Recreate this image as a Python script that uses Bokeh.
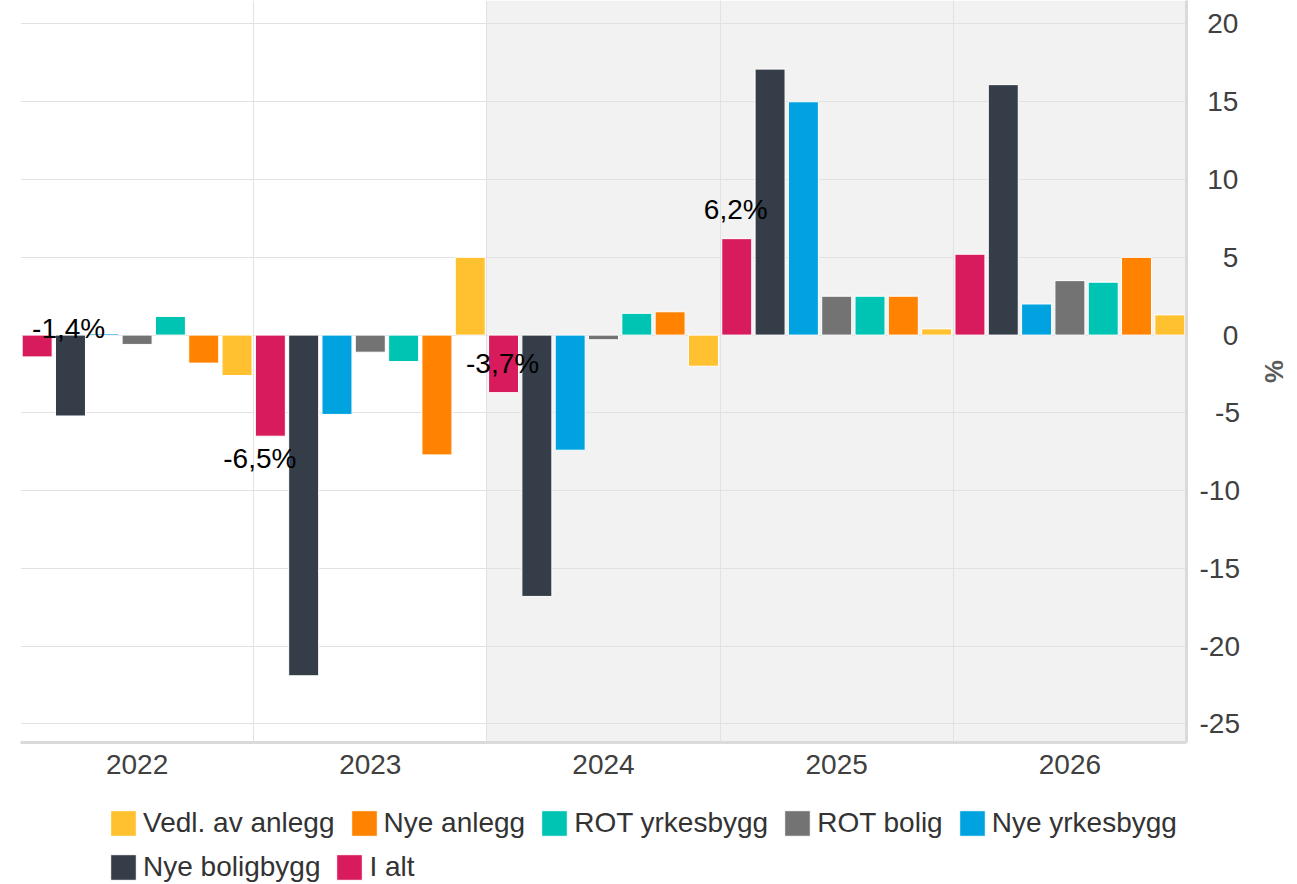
from bokeh.plotting import figure
from bokeh.layouts import column
from bokeh.models import (FactorRange, Range1d, ColumnDataSource, SingleIntervalTicker,
                          FixedTicker, BoxAnnotation, Legend, LegendItem, CustomJSTickFormatter)
from bokeh.transform import dodge
from bokeh.core.properties import value
from bokeh.embed import file_html
from bokeh.resources import INLINE

# ---------------- data ----------------
years = ["2022", "2023", "2024", "2025", "2026"]
forecast_from = "2024"

series_names = ["I alt", "Nye boligbygg", "Nye yrkesbygg", "ROT bolig",
                "ROT yrkesbygg", "Nye anlegg", "Vedl. av anlegg"]

i_alt = [-1.4, -6.5, -3.7, 6.2, 5.2]
nye_boligbygg = [-5.2, -21.9, -16.8, 17.1, 16.1]
nye_yrkesbygg = [0.1, -5.1, -7.4, 15.0, 2.0]
rot_bolig = [-0.6, -1.1, -0.3, 2.5, 3.5]
rot_yrkesbygg = [1.2, -1.7, 1.4, 2.5, 3.4]
nye_anlegg = [-1.8, -7.7, 1.5, 2.5, 5.0]
vedl_anlegg = [-2.6, 5.0, -2.0, 0.4, 1.3]

labeled_years = ["2022", "2023", "2024", "2025"]

legend_row1 = ["Vedl. av anlegg", "Nye anlegg", "ROT yrkesbygg", "ROT bolig", "Nye yrkesbygg"]
legend_row2 = ["Nye boligbygg", "I alt"]

# ---------------- styles ----------------
colors = {
    "I alt": "#d81b5c",
    "Nye boligbygg": "#343d48",
    "Nye yrkesbygg": "#00a3e0",
    "ROT bolig": "#737373",
    "ROT yrkesbygg": "#00c4b3",
    "Nye anlegg": "#ff8300",
    "Vedl. av anlegg": "#ffc130",
}
label_offsets = [(31.5, -28), (-10.5, 22), (-1, -29), (-1, -29)]
FONT = "Liberation Sans"
W = 1297

values_by_series = {
    "I alt": i_alt,
    "Nye boligbygg": nye_boligbygg,
    "Nye yrkesbygg": nye_yrkesbygg,
    "ROT bolig": rot_bolig,
    "ROT yrkesbygg": rot_yrkesbygg,
    "Nye anlegg": nye_anlegg,
    "Vedl. av anlegg": vedl_anlegg,
}

x_range = FactorRange(*years, range_padding=0)
p = figure(width=W, height=790,
           x_range=x_range,
           y_range=Range1d(-26.19, 21.51),
           y_axis_location="right",
           output_backend="svg", toolbar_location=None,
           min_border_left=20, min_border_top=0, min_border_right=111, min_border_bottom=48)
p.outline_line_color = None
p.background_fill_color = "white"

# forecast shading
p.add_layout(BoxAnnotation(left=years.index(forecast_from), fill_color="#f2f2f2", fill_alpha=1,
                           line_alpha=0, level="image"))

n = len(series_names)
slot = 1.0 / n
sources = {}
for i, name in enumerate(series_names):
    sources[name] = ColumnDataSource(dict(year=years, v=values_by_series[name]))
    p.vbar(x=dodge("year", (i - (n - 1) / 2) * slot, range=x_range),
           top="v", bottom=0, width=slot * 0.9, source=sources[name],
           fill_color=colors[name], line_color="white", line_width=1)

# data labels for "I alt"
lbl_vals = [i_alt[years.index(y)] for y in labeled_years]
lbl_src = ColumnDataSource(dict(
    year=labeled_years, v=lbl_vals,
    text=[("%.1f%%" % v).replace(".", ",") for v in lbl_vals],
    dx=[o[0] for o in label_offsets], dy=[o[1] for o in label_offsets]))
p.text(x=dodge("year", (0 - (n - 1) / 2) * slot, range=x_range), y="v", text="text",
       x_offset="dx", y_offset="dy", source=lbl_src, text_align="center",
       text_baseline="middle", text_font=value(FONT), text_font_size="28px",
       text_color="black")

# axes
yax = p.yaxis[0]
yax.ticker = SingleIntervalTicker(interval=5, num_minor_ticks=0)
yax.formatter = CustomJSTickFormatter(code="""
    const a = Math.abs(tick);
    let pad = '';
    if (tick >= 0) pad += '\\u2008';
    if (String(a).length < 2) pad += '\\u2007';
    return pad + (tick < 0 ? '-' : '') + String(a);
""")
yax.major_tick_line_color = None
yax.minor_tick_line_color = None
yax.axis_line_color = "#dadada"
yax.axis_line_width = 3
yax.major_label_text_font = FONT
yax.major_label_text_font_size = "28px"
yax.major_label_text_color = "#404040"
yax.major_label_standoff = 7
yax.axis_label = "%"
yax.axis_label_text_font = FONT
yax.axis_label_text_font_style = "bold"
yax.axis_label_text_font_size = "26px"
yax.axis_label_text_color = "#5a5a5a"
yax.axis_label_standoff = 16

xax = p.xaxis[0]
xax.major_tick_line_color = None
xax.minor_tick_line_color = None
xax.axis_line_color = "#dadada"
xax.axis_line_width = 3
xax.major_label_text_font = FONT
xax.major_label_text_font_size = "28px"
xax.major_label_text_color = "#404040"
xax.major_label_standoff = 6

p.ygrid.grid_line_color = "#e2e2e2"
p.ygrid.grid_line_width = 1
p.xgrid.ticker = FixedTicker(ticks=list(range(len(years) + 1)))
p.xgrid.grid_line_color = "#e2e2e2"
p.xgrid.grid_line_width = 1

# ---------------- legend strip (same sources; bars lie outside its view) ----------------
lf = figure(width=W, height=94, x_range=x_range, y_range=Range1d(1000, 1001),
            x_axis_location=None, y_axis_location=None,
            output_backend="svg", toolbar_location=None,
            min_border_left=20, min_border_right=111, min_border_top=0, min_border_bottom=0)
lf.outline_line_color = None
lf.grid.visible = False
swatch = {}
for i, name in enumerate(series_names):
    swatch[name] = lf.vbar(x=dodge("year", (i - (n - 1) / 2) * slot, range=x_range),
                           top="v", bottom=0, width=slot * 0.9, source=sources[name],
                           fill_color=colors[name], line_color="white", line_width=1)


def make_legend(names, loc):
    return Legend(items=[LegendItem(label=nm, renderers=[swatch[nm]]) for nm in names],
                  orientation="horizontal", location=loc,
                  glyph_width=32, glyph_height=32, label_standoff=4, spacing=13,
                  padding=0, margin=0, border_line_alpha=0, background_fill_alpha=0,
                  label_text_font=FONT, label_text_font_size="28px",
                  label_text_color="#333333", label_text_baseline="middle")


lf.add_layout(make_legend(legend_row1, (87, 45)))
lf.add_layout(make_legend(legend_row2, (87, 1)))

open("out.html", "w").write(file_html(column(p, lf, spacing=0), INLINE))
